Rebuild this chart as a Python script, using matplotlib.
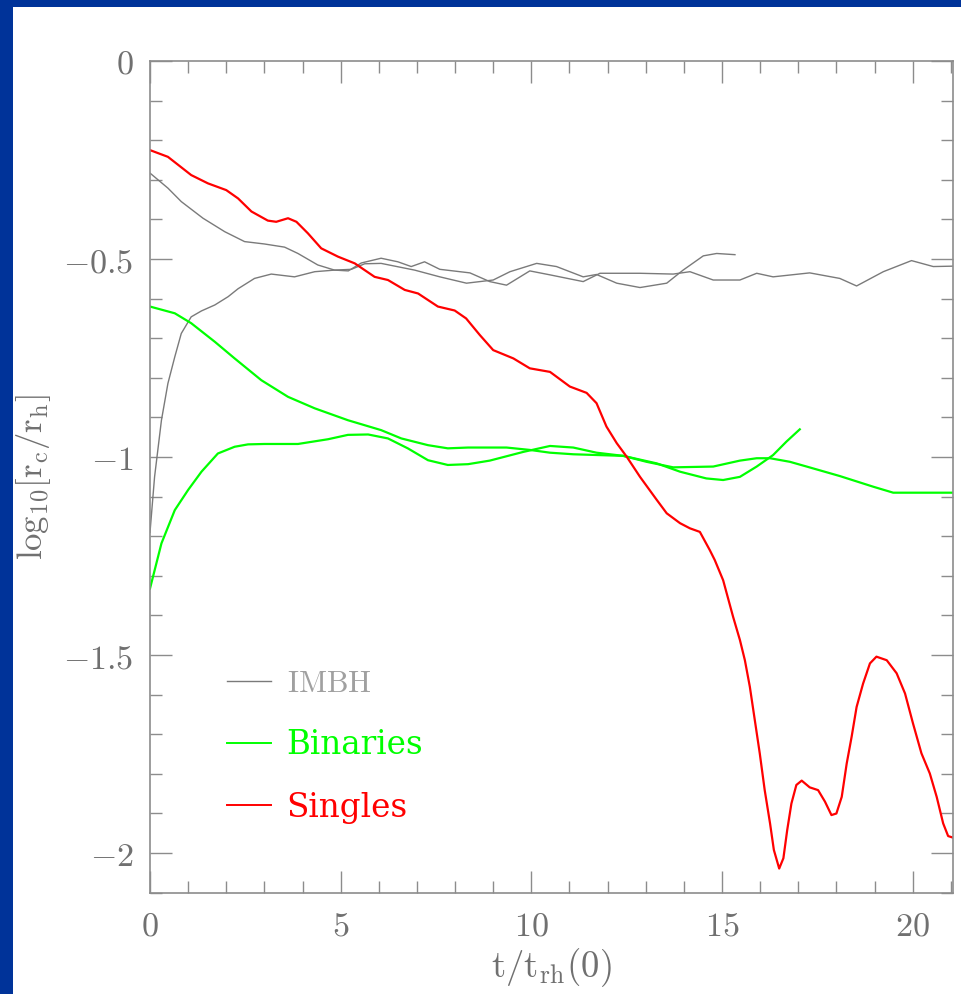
import matplotlib
matplotlib.use("Agg")
import matplotlib.pyplot as plt
from matplotlib.lines import Line2D
from matplotlib.patches import Rectangle
from matplotlib.ticker import MultipleLocator

plt.rcParams['mathtext.fontset'] = 'cm'

# ---- core radius evolution: log10(rc/rh) versus t/trh(0) ----
t_singles = [0.0, 0.47, 1.08, 1.52, 2.0, 2.31, 2.66, 3.09, 3.31, 3.62, 3.84, 4.14,
             4.49, 4.93, 5.37, 5.89, 6.24, 6.68, 7.03, 7.55, 7.99, 8.29, 8.65, 9.0,
             9.53, 9.96, 10.49, 11.01, 11.45, 11.71, 11.97, 12.24, 12.5, 12.85, 13.28,
             13.55, 13.9, 14.16, 14.42, 14.68, 14.81, 15.03, 15.29, 15.47, 15.60, 15.73,
             15.86, 15.99, 16.12, 16.26, 16.36, 16.50, 16.61, 16.71, 16.82, 16.95, 17.09,
             17.30, 17.52, 17.70, 17.87, 18.00, 18.14, 18.27, 18.40, 18.53, 18.70, 18.88,
             19.05, 19.32, 19.58, 19.80, 20.01, 20.23, 20.45, 20.63, 20.80, 20.93, 21.06]
y_singles = [-0.225, -0.242, -0.288, -0.309, -0.326, -0.347, -0.380, -0.403, -0.406,
             -0.397, -0.406, -0.435, -0.473, -0.494, -0.511, -0.545, -0.553, -0.578,
             -0.587, -0.620, -0.630, -0.650, -0.692, -0.730, -0.751, -0.776, -0.785,
             -0.822, -0.838, -0.864, -0.923, -0.965, -0.999, -1.050, -1.107, -1.142,
             -1.167, -1.180, -1.189, -1.235, -1.260, -1.311, -1.403, -1.462, -1.513,
             -1.580, -1.664, -1.748, -1.841, -1.925, -1.992, -2.039, -2.013, -1.942,
             -1.875, -1.828, -1.817, -1.834, -1.841, -1.870, -1.904, -1.900, -1.858,
             -1.774, -1.706, -1.631, -1.572, -1.521, -1.504, -1.513, -1.546, -1.597,
             -1.673, -1.748, -1.799, -1.858, -1.925, -1.957, -1.961]

t_bin_a = [0.0, 0.65, 1.08, 1.70, 2.22, 2.92, 3.62, 4.32, 5.19, 6.06, 6.59, 7.29, 7.81,
           8.34, 9.35, 9.96, 10.49, 11.10, 12.41, 13.02, 13.72, 14.77, 15.47, 15.91,
           16.26, 16.78, 17.22, 18.09, 18.97, 19.49, 21.06]
y_bin_a = [-0.620, -0.637, -0.662, -0.709, -0.751, -0.806, -0.848, -0.877, -0.907,
           -0.932, -0.953, -0.970, -0.978, -0.976, -0.976, -0.982, -0.989, -0.993,
           -0.997, -1.012, -1.026, -1.024, -1.009, -1.003, -1.003, -1.012, -1.024,
           -1.048, -1.075, -1.090, -1.090]

t_bin_b = [0.0, 0.30, 0.65, 1.0, 1.35, 1.78, 2.22, 2.57, 3.0, 3.88, 4.67, 5.19, 5.72,
           6.24, 6.76, 7.29, 7.81, 8.34, 8.91, 9.79, 10.49, 11.10, 11.71, 12.41, 13.29,
           13.90, 14.59, 15.03, 15.47, 15.91, 16.34, 16.69, 17.04]
y_bin_b = [-1.332, -1.218, -1.134, -1.083, -1.037, -0.991, -0.974, -0.968, -0.967,
           -0.967, -0.955, -0.944, -0.943, -0.953, -0.978, -1.008, -1.020, -1.018,
           -1.009, -0.987, -0.972, -0.976, -0.989, -0.997, -1.016, -1.037, -1.054,
           -1.058, -1.050, -1.024, -0.995, -0.961, -0.930]

t_imbh_a = [0.0, 0.47, 0.82, 1.39, 1.96, 2.48, 3.0, 3.53, 3.88, 4.40, 4.84, 5.2, 5.54,
            6.06, 6.5, 6.85, 7.2, 7.6, 8.39, 8.91, 9.35, 9.96, 10.49, 11.36, 11.80,
            12.85, 13.72, 14.16, 14.77, 15.47, 15.91, 16.34, 17.30, 18.09, 18.53, 19.23,
            19.97, 20.54, 21.06]
y_imbh_a = [-0.283, -0.321, -0.355, -0.397, -0.431, -0.456, -0.462, -0.470, -0.486,
            -0.515, -0.528, -0.530, -0.510, -0.498, -0.507, -0.519, -0.507, -0.526,
            -0.535, -0.557, -0.566, -0.530, -0.540, -0.557, -0.536, -0.536, -0.538,
            -0.532, -0.553, -0.553, -0.536, -0.545, -0.535, -0.549, -0.568, -0.532,
            -0.504, -0.519, -0.518]

t_imbh_b = [0.0, 0.12, 0.30, 0.47, 0.65, 0.82, 1.08, 1.35, 1.70, 2.05, 2.31, 2.74, 3.18,
            3.79, 4.32, 4.84, 5.28, 5.63, 6.06, 6.94, 7.6, 8.30, 9.00, 9.44, 10.14,
            10.66, 11.36, 11.71, 12.24, 12.85, 13.55, 13.98, 14.51, 14.86, 15.34]
y_imbh_b = [-1.19, -1.05, -0.907, -0.814, -0.747, -0.688, -0.646, -0.631, -0.616,
            -0.595, -0.575, -0.549, -0.538, -0.545, -0.532, -0.528, -0.526, -0.512,
            -0.511, -0.528, -0.545, -0.561, -0.553, -0.532, -0.511, -0.519, -0.545,
            -0.539, -0.561, -0.572, -0.561, -0.528, -0.492, -0.486, -0.489]

x_ticks = [0, 5, 10, 15, 20]
x_ticklabels = ['$0$', '$5$', '$10$', '$15$', '$20$']
y_ticks = [-2.0, -1.5, -1.0, -0.5, 0.0]
y_ticklabels = ['$-2$', '$-1.5$', '$-1$', '$-0.5$', '$0$']

legend_labels = [r'$\mathrm{IMBH}$', 'Binaries', 'Singles']

GRAY = '#7a7a7a'
GREEN = '#00ff00'
RED = '#ff0000'
FRAME = '#8c8c8c'
TEXT = '#707070'

fig = plt.figure(figsize=(9.61, 9.94), dpi=100)
fig.patch.set_facecolor('#003399')
fig.add_artist(Rectangle((13 / 961, 0), 1, 1 - 7 / 994, transform=fig.transFigure,
                         facecolor='white', edgecolor='none', zorder=0))

ax = fig.add_axes([150 / 961, 1 - 892.7 / 994, 802.7 / 961, 831.7 / 994])
ax.set_facecolor('white')

ax.plot(t_imbh_a, y_imbh_a, color=GRAY, lw=1.0)
ax.plot(t_imbh_b, y_imbh_b, color=GRAY, lw=1.0)
ax.plot(t_bin_a, y_bin_a, color=GREEN, lw=1.6)
ax.plot(t_bin_b, y_bin_b, color=GREEN, lw=1.6)
ax.plot(t_singles, y_singles, color=RED, lw=1.6)

ax.set_xlim(0, 21.05)
ax.set_ylim(-2.1, 0)

ax.set_xticks(x_ticks)
ax.set_xticklabels(x_ticklabels)
ax.set_yticks(y_ticks)
ax.set_yticklabels(y_ticklabels)
ax.xaxis.set_minor_locator(MultipleLocator(1))
ax.yaxis.set_minor_locator(MultipleLocator(0.1))

ax.tick_params(which='both', direction='in', top=True, right=True, color=FRAME,
               width=1.0, labelcolor=TEXT, labelsize=24.5)
ax.tick_params(which='major', length=16, pad=12)
ax.tick_params(which='minor', length=8.5)
for sp in ax.spines.values():
    sp.set_color(FRAME)
    sp.set_linewidth(1.2)

ax.set_xlabel(r'$\mathrm{t/t_{rh}(0)}$', fontsize=26.5, color=TEXT)
ax.xaxis.set_label_coords(0.5, -0.09)
ax.xaxis.label.set_va('center')
ax.set_ylabel(r'$\mathrm{log_{10}[r_c/r_h]}$', fontsize=25, color=TEXT)
ax.yaxis.set_label_coords(-0.145, 0.5)
ax.yaxis.label.set_va('center')

handles = [Line2D([], [], color=GRAY, lw=1.0),
           Line2D([], [], color=GREEN, lw=1.4),
           Line2D([], [], color=RED, lw=1.4)]
leg = ax.legend(handles, legend_labels, loc='upper left',
                bbox_to_anchor=((227 - 150) / 802.7, (892.7 - 668) / 831.7),
                frameon=False, borderpad=0, borderaxespad=0, handlelength=1.35,
                handletextpad=0.48, labelspacing=0.93,
                prop={'family': 'DejaVu Serif', 'size': 23.5})
for txt, col in zip(leg.get_texts(), ['#a0a0a0', GREEN, RED]):
    txt.set_color(col)
leg.get_texts()[0].set_fontsize(22)

fig.savefig('out.png', dpi=100, facecolor=fig.get_facecolor())
